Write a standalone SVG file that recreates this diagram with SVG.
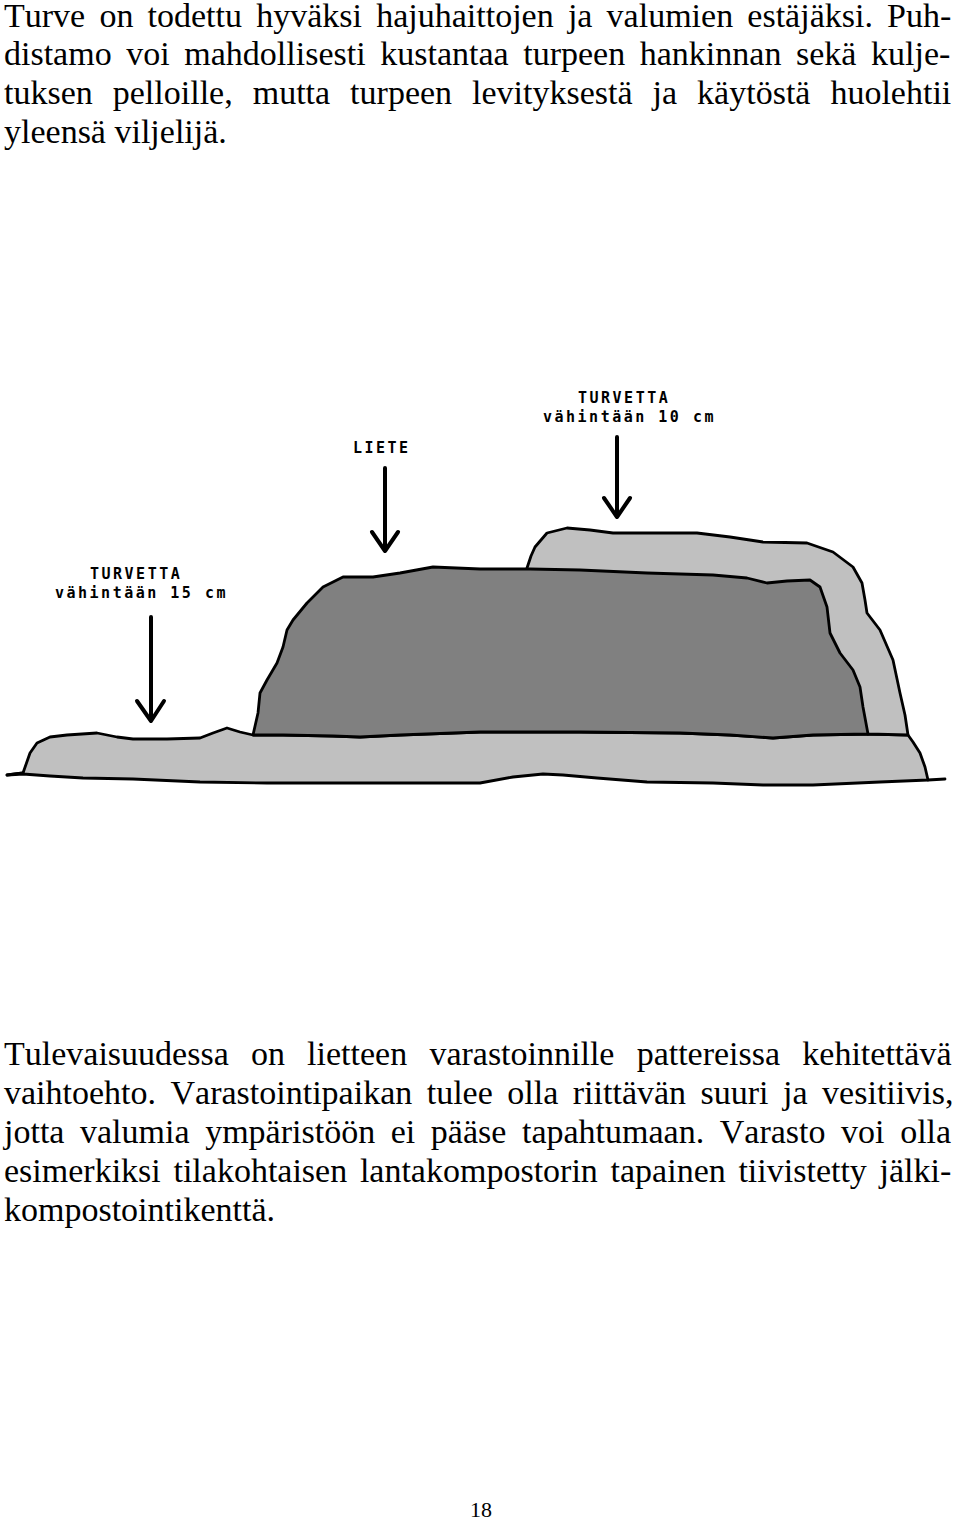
<svg xmlns="http://www.w3.org/2000/svg" width="960" height="1520" viewBox="0 0 960 1520">
<style>
.body{font-family:"Liberation Serif","Times New Roman",serif;font-size:34px;fill:#000;font-kerning:none}
.lbl{font-family:"DejaVu Sans Mono","Liberation Mono",monospace;font-size:15px;font-weight:bold;letter-spacing:2.5px;fill:#000}
.edge{stroke:#000;stroke-width:2.8;stroke-linejoin:round;stroke-linecap:round}
.peat{fill:#c0c0c0}
.slurry{fill:#808080}
.arrow{fill:none;stroke:#000;stroke-width:4;stroke-linecap:round;stroke-linejoin:round}
.page{font-family:"Liberation Serif","Times New Roman",serif;font-size:22px;fill:#000}
</style>
<rect width="960" height="1520" fill="#fff"/>

<g id="text-top">
<text class="body" x="4" y="27" style="word-spacing:5.7px">Turve on todettu hyväksi hajuhaittojen ja valumien estäjäksi. Puh-</text>
<text class="body" x="4" y="65" style="word-spacing:6.1px">distamo voi mahdollisesti kustantaa turpeen hankinnan sekä kulje-</text>
<text class="body" x="4" y="104" style="word-spacing:11.5px">tuksen pelloille, mutta turpeen levityksestä ja käytöstä huolehtii</text>
<text class="body" x="4" y="143">yleensä viljelijä.</text>
</g>

<g id="diagram">
<g id="base-peat">
<path class="peat edge" d="M7,775 L23,773 L30,753 L37,743 L50,737 L67,735 L97,733 L117,737 L133,739 L167,739 L200,738 L213,733 L227,728 L240,732 L253,735 L283,735 L333,736 L360,737 L400,735 L480,732 L580,732 L680,733 L730,735 L773,738 L813,735 L870,734 L908,735 L913,742 L920,753 L925,767 L928,780 L880,782 L813,785 L763,785 L713,783 L647,782 L597,778 L563,775 L543,774 L513,777 L480,783 L367,783 L267,783 L200,782 L133,779 L83,778 L50,776 L23,774 Z"/>
<path class="edge" fill="none" d="M7,775 L23,773 M928,780 L945,779"/>
</g>
<g id="cover-peat">
<path class="peat edge" d="M527,568 L531,556 L535,547 L547,533 L567,528 L590,530 L613,533 L660,533 L697,533 L730,537 L763,542 L807,543 L833,552 L853,567 L862,583 L865,600 L867,613 L880,630 L893,660 L900,693 L905,715 L908,735 L868,734 L840,700 L540,700 Z"/>
</g>
<g id="slurry-pile">
<path class="slurry edge" d="M253,735 L258,713 L260,693 L267,680 L277,663 L283,647 L287,630 L293,620 L307,603 L323,587 L343,577 L373,577 L400,573 L433,567 L480,569 L530,569 L580,570 L647,573 L713,575 L747,578 L767,583 L787,581 L810,580 L820,587 L827,607 L830,633 L840,653 L853,670 L860,687 L863,707 L868,734 L813,735 L773,738 L730,735 L680,733 L580,732 L480,732 L400,735 L360,737 L333,736 L283,735 Z"/>
</g>
</g>

<g id="label-liete">
<text class="lbl" x="353" y="453">LIETE</text>
</g>
<g id="label-turvetta-top">
<text class="lbl" x="578" y="403">TURVETTA</text>
<text class="lbl" x="543" y="422">vähintään 10 cm</text>
</g>
<g id="label-turvetta-left">
<text class="lbl" x="90" y="579">TURVETTA</text>
<text class="lbl" x="55" y="598">vähintään 15 cm</text>
</g>

<g id="connectors">
<path class="arrow" d="M385,468 L385,551 M372,532 L385,551 L398,532"/>
<path class="arrow" d="M617,437 L617,517 M604,498 L617,517 L630,498"/>
<path class="arrow" d="M151,617 L151,721 M137,701 L151,721 L164,701"/>
</g>

<g id="text-bottom">
<text class="body" x="4" y="1065" style="word-spacing:13.7px">Tulevaisuudessa on lietteen varastoinnille pattereissa kehitettävä</text>
<text class="body" x="4" y="1104" style="word-spacing:6.0px">vaihtoehto. Varastointipaikan tulee olla riittävän suuri ja vesitiivis,</text>
<text class="body" x="4" y="1143" style="word-spacing:7.1px">jotta valumia ympäristöön ei pääse tapahtumaan. Varasto voi olla</text>
<text class="body" x="4" y="1182" style="word-spacing:4.2px">esimerkiksi tilakohtaisen lantakompostorin tapainen tiivistetty jälki-</text>
<text class="body" x="4" y="1221">kompostointikenttä.</text>
</g>

<g id="page-number">
<text class="page" x="481" y="1517" text-anchor="middle">18</text>
</g>
</svg>
